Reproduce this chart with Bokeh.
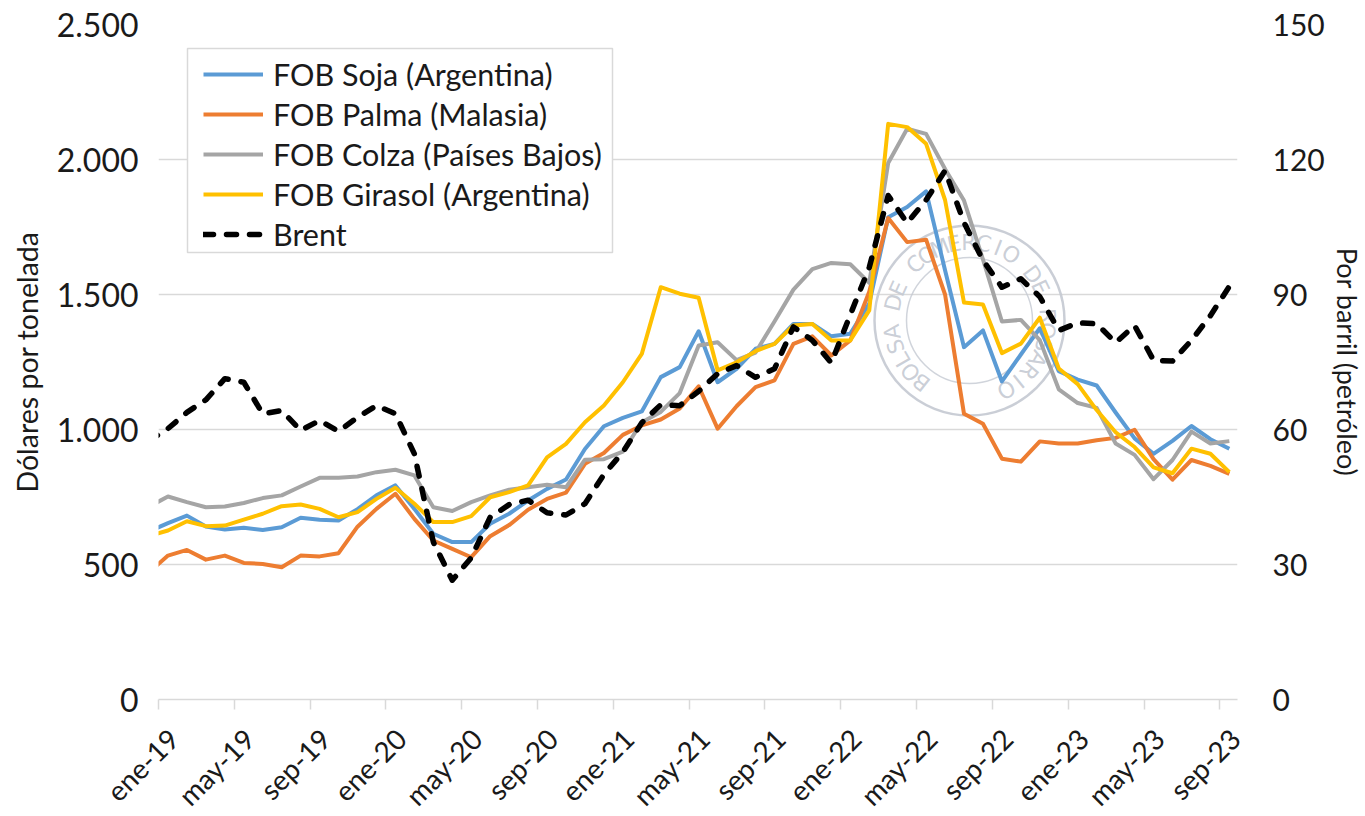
import math
from bokeh.plotting import figure
from bokeh.models import Range1d, LinearAxis, FixedTicker, Legend, LegendItem
from bokeh.core.properties import value
from bokeh.embed import file_html
from bokeh.resources import INLINE

# ---------------- data (monthly, dic-18 .. sep-23) ----------------
mes_abbr = ["ene", "feb", "mar", "abr", "may", "jun", "jul", "ago", "sep", "oct", "nov", "dic"]
months = ["dic-18"] + [f"{mes_abbr[i % 12]}-{19 + i // 12}" for i in range(57)]

soja = [623,
        653, 681, 641, 630, 636, 628, 638, 673, 666, 663,
        705, 756, 793, 706, 614, 583, 583, 651, 688, 737,
        780, 815, 928, 1012, 1043, 1067, 1194, 1231, 1364, 1175,
        1225, 1299, 1317, 1391, 1391, 1345, 1355, 1466, 1786, 1824,
        1882, 1590, 1305, 1367, 1178, 1278, 1375, 1216, 1185, 1163,
        1063, 967, 910, 958, 1013, 964, 929]

palma = [471,
         533, 554, 518, 533, 506, 502, 490, 533, 530, 542,
         640, 706, 762, 669, 589, 558, 527, 605, 646, 703,
         743, 766, 873, 913, 980, 1015, 1037, 1078, 1160, 1003,
         1086, 1157, 1182, 1317, 1345, 1274, 1330, 1510, 1783, 1694,
         1703, 1500, 1058, 1021, 892, 881, 956, 948, 948, 960,
         969, 999, 890, 814, 887, 865, 836]

colza = [714,
         752, 731, 712, 715, 728, 746, 756, 789, 821, 821,
         826, 842, 851, 830, 712, 698, 731, 756, 777, 786,
         795, 786, 888, 890, 918, 1027, 1065, 1135, 1311, 1323,
         1257, 1285, 1400, 1518, 1594, 1617, 1612, 1543, 1987, 2114,
         2095, 1965, 1848, 1630, 1400, 1406, 1331, 1149, 1098, 1080,
         948, 906, 816, 887, 992, 948, 957]

girasol = [606,
           626, 660, 642, 644, 666, 688, 716, 722, 706, 675,
           694, 743, 784, 725, 657, 657, 679, 749, 768, 793,
           897, 947, 1027, 1089, 1175, 1280, 1527, 1503, 1488, 1219,
           1249, 1290, 1317, 1385, 1391, 1330, 1330, 1441, 2132, 2120,
           2058, 1850, 1470, 1463, 1283, 1318, 1414, 1226, 1168, 1072,
           990, 935, 860, 838, 929, 910, 842]

brent = [57.5,
         60.2, 63.8, 66.6, 71.3, 70.5, 63.5, 64.2, 59.8, 62.0, 59.6,
         62.7, 65.3, 63.5, 54.6, 35.0, 26.5, 31.5, 40.5, 43.3, 44.3,
         41.5, 41.0, 43.5, 50.0, 55.0, 61.5, 65.5, 65.3, 68.5, 72.4,
         74.2, 71.6, 73.5, 82.8, 79.8, 74.8, 85.5, 96.0, 112.0, 105.9,
         111.0, 117.5, 106.0, 97.6, 91.6, 93.5, 89.5, 82.0, 83.7, 83.5,
         79.3, 83.1, 75.4, 75.2, 79.8, 85.3, 91.8]

tick_labels = ["ene-19", "may-19", "sep-19", "ene-20", "may-20", "sep-20", "ene-21",
               "may-21", "sep-21", "ene-22", "may-22", "sep-22", "ene-23", "may-23", "sep-23"]
left_ticks = [0, 500, 1000, 1500, 2000, 2500]
left_tick_labels = ["0", "500", "1.000", "1.500", "2.000", "2.500"]
right_ticks = [0, 30, 60, 90, 120, 150]

series_names = ["FOB Soja (Argentina)", "FOB Palma (Malasia)", "FOB Colza (Países Bajos)",
                "FOB Girasol (Argentina)", "Brent"]

# ---------------- figure ----------------
FONT = "Lato"
TXT = "#1a1a1a"
GRID = "#d9d9d9"
FW, FH = 1079, 675
X_MAX = 56.93
Y_MAX = 2500
px_x = FW / X_MAX
px_y = FH / Y_MAX

# each point sits at the middle of its month (month 0 = ene-19 starts at x=0)
x = [i - 0.5 for i in range(len(months))]
tick_pos = [4 * i for i in range(len(tick_labels))]
label_shift = 15 / px_x                      # rotated labels hang slightly right of the tick
label_pos = [t + label_shift for t in tick_pos]

p = figure(frame_width=FW, frame_height=FH,
           x_range=Range1d(0, X_MAX), y_range=Range1d(0, Y_MAX),
           output_backend="svg", toolbar_location=None,
           min_border_left=158, min_border_top=24, min_border_right=0, min_border_bottom=0,
           background_fill_color="white", border_fill_color="white",
           outline_line_color=None)
p.extra_y_ranges = {"brent": Range1d(0, 150)}

# x axis 1: line + tick marks only
xa = p.xaxis[0]
xa.ticker = FixedTicker(ticks=tick_pos)
xa.major_label_overrides = {t: "" for t in tick_pos}
xa.axis_line_color = GRID
xa.axis_line_width = 1.5
xa.major_tick_line_color = GRID
xa.major_tick_line_width = 1.5
xa.major_tick_out = 10
xa.major_tick_in = 0
xa.minor_tick_line_color = None
xa.major_label_text_font_size = "1px"
xa.major_label_standoff = 0

# x axis 2: the rotated month labels
xb = LinearAxis(ticker=FixedTicker(ticks=label_pos))
xb.major_label_overrides = {t: l for t, l in zip(label_pos, tick_labels)}
xb.major_label_orientation = math.pi / 4
xb.axis_line_color = None
xb.major_tick_line_color = None
xb.minor_tick_line_color = None
xb.major_tick_out = 0
xb.major_tick_in = 0
xb.major_label_text_font = FONT
xb.major_label_text_font_size = "28px"
xb.major_label_text_color = TXT
xb.major_label_standoff = 24
p.add_layout(xb, "below")

# left axis
ya = p.yaxis[0]
ya.ticker = FixedTicker(ticks=left_ticks)
ya.major_label_overrides = {t: l for t, l in zip(left_ticks, left_tick_labels)}
ya.axis_line_color = None
ya.major_tick_line_color = None
ya.minor_tick_line_color = None
ya.major_label_text_font = FONT
ya.major_label_text_font_size = "32px"
ya.major_label_text_color = TXT
ya.major_label_standoff = 14
ya.axis_label = "Dólares por tonelada"
ya.axis_label_text_font = FONT
ya.axis_label_text_font_size = "28.5px"
ya.axis_label_text_font_style = "normal"
ya.axis_label_text_color = TXT
ya.axis_label_standoff = 10

# right axis
ra = LinearAxis(y_range_name="brent", ticker=FixedTicker(ticks=right_ticks),
                axis_label="Por barril (petróleo)")
ra.axis_line_color = None
ra.major_tick_line_color = None
ra.minor_tick_line_color = None
ra.major_label_text_font = FONT
ra.major_label_text_font_size = "30px"
ra.major_label_text_color = TXT
ra.major_label_standoff = 29
ra.axis_label_text_font = FONT
ra.axis_label_text_font_size = "27px"
ra.axis_label_text_font_style = "normal"
ra.axis_label_text_color = TXT
ra.axis_label_standoff = 3
p.add_layout(ra, "right")

p.xgrid.visible = False
p.ygrid.ticker = FixedTicker(ticks=left_ticks)
p.ygrid.grid_line_color = GRID
p.ygrid.grid_line_width = 1.5

# ---------------- watermark seal (decoration) ----------------
SEAL = "#c4c9d2"
seal_cx, seal_cy = 811, 296          # centre, px from frame left / top
seal_xc = seal_cx / px_x
seal_yc = (FH - seal_cy) / px_y
p.scatter([seal_xc], [seal_yc], marker="circle", size=190, fill_color=None,
          line_color=SEAL, line_width=2.5, line_alpha=0.9)
p.scatter([seal_xc], [seal_yc], marker="circle", size=126, fill_color=None,
          line_color=SEAL, line_width=1.5, line_alpha=0.8)
seal_text = "BOLSA DE COMERCIO DE ROSARIO"
n = len(seal_text)
r_txt = 78
a0, a1 = 232.0, -62.0
sx, sy, sa, sc = [], [], [], []
for i, ch in enumerate(seal_text):
    th = math.radians(a0 + (a1 - a0) * i / (n - 1))
    sx.append(seal_xc + r_txt * math.cos(th) / px_x)
    sy.append(seal_yc + r_txt * math.sin(th) / px_y)
    sa.append(th - math.pi / 2)
    sc.append(ch)
p.text(sx, sy, text=sc, angle=sa, text_font=value("DejaVu Sans"), text_font_size="22px",
       text_color=SEAL, text_alpha=0.9, text_align="center", text_baseline="middle")

# legend frame (decoration), px: left 187, right 612, top 48, bottom 252 of the page
lg_l, lg_r, lg_t, lg_b = 187 - 158, 612 - 158, 48 - 24, 252 - 24
p.quad(left=[lg_l / px_x], right=[lg_r / px_x], top=[(FH - lg_t) / px_y], bottom=[(FH - lg_b) / px_y],
       fill_color="white", line_color=GRID, line_width=1.5)

# ---------------- series ----------------
r1 = p.line(x, soja, line_color="#5B9BD5", line_width=4, line_join="round")
r2 = p.line(x, palma, line_color="#ED7D31", line_width=4, line_join="round")
r3 = p.line(x, colza, line_color="#A5A5A5", line_width=4, line_join="round")
r4 = p.line(x, girasol, line_color="#FFC000", line_width=4, line_join="round")
r5 = p.line(x, brent, y_range_name="brent", line_color="#000000", line_width=5.5,
            line_dash="10 13", line_cap="round", line_join="round")

legend = Legend(items=[LegendItem(label=nm, renderers=[r]) for nm, r in
                       zip(series_names, [r1, r2, r3, r4, r5])],
                location=(45, 445))
legend.label_text_font = FONT
legend.label_text_font_size = "30.5px"
legend.label_text_color = TXT
legend.glyph_width = 60
legend.glyph_height = 40
legend.label_height = 40
legend.spacing = 0
legend.padding = 2
legend.margin = 0
legend.label_standoff = 10
legend.border_line_color = None
legend.background_fill_alpha = 0
p.add_layout(legend)

open("out.html", "w").write(file_html(p, INLINE))
